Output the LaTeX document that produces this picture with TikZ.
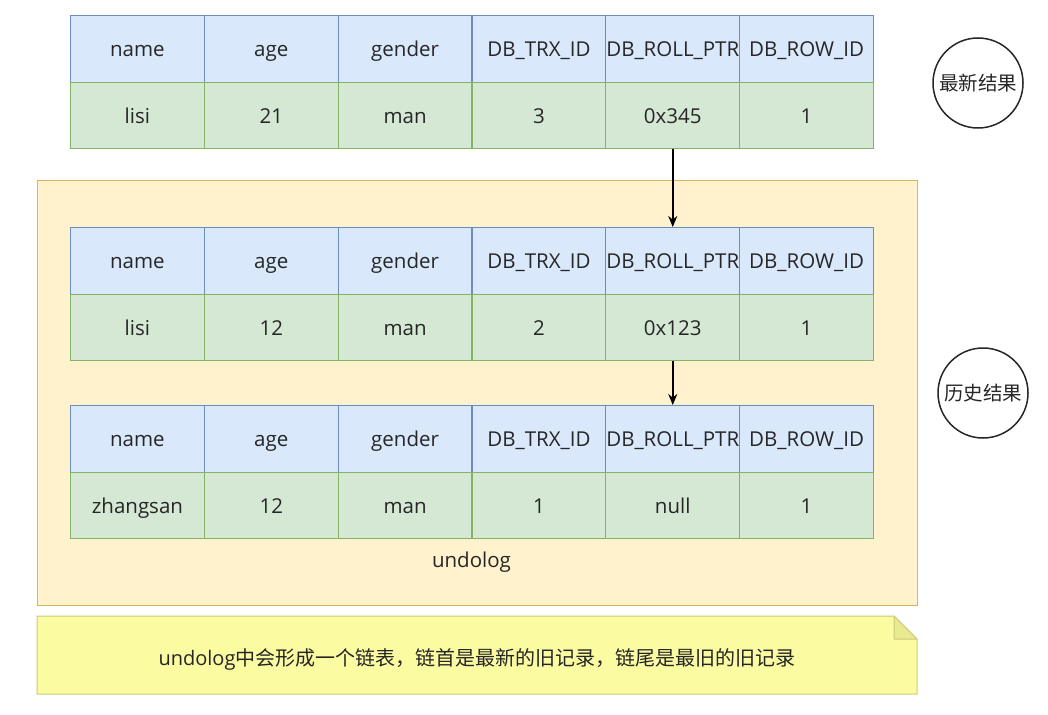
\documentclass[tikz,border=0pt]{standalone}
\usepackage{fontspec}
\setmainfont{Open Sans}
\newfontfamily\cjk{Noto Sans CJK SC}
\usetikzlibrary{arrows.meta}
\definecolor{hfill}{HTML}{DAE8FC}
\definecolor{hdraw}{HTML}{6C8EBF}
\definecolor{vfill}{HTML}{D5E8D4}
\definecolor{vdraw}{HTML}{82B366}
\definecolor{cfill}{HTML}{FFF2CC}
\definecolor{cdraw}{HTML}{D6B656}
\definecolor{nfill}{HTML}{FBFBA2}
\definecolor{ndraw}{HTML}{CACA7A}
\definecolor{nfold}{HTML}{E9E992}
\definecolor{ink}{HTML}{262626}
\tikzset{
  cell/.style={minimum width=133.83pt, minimum height=66.7pt, inner sep=0pt, anchor=north west, font=\fontsize{20.5}{24}\selectfont, text=ink, line width=1pt, text height=16.5pt, text depth=1.5pt},
  hcell/.style={cell, fill=hfill, draw=hdraw},
  vcell/.style={cell, fill=vfill, draw=vdraw},
  link/.style={draw=black, line width=1.8pt, -{Stealth[length=11pt,width=9pt]}},
  tag/.style={circle, draw=ink, line width=1.5pt, fill=white, minimum size=90pt, inner sep=0pt, font=\cjk\fontsize{19.5}{22}\selectfont, text=ink},
}
\begin{document}
\begin{tikzpicture}[x=1pt,y=-1pt]
\useasboundingbox (0,0) rectangle (1048,714);
\fill[white] (0,0) rectangle (1048,714);
% container
\node[draw=cdraw, fill=cfill, line width=1pt, minimum width=880pt, minimum height=425pt, inner sep=0pt, anchor=north west] (undo) at (37,180) {};
\node[font=\fontsize{20.5}{24}\selectfont, text=ink] (undolab) at (471.5,562) {undolog};
% table a
\node[hcell] (ah1) at (70,15) {name};
\node[hcell] (ah2) at (203.83,15) {age};
\node[hcell] (ah3) at (337.66,15) {gender};
\node[hcell] (ah4) at (471.5,15) {DB\_TRX\_ID};
\node[hcell] (ah5) at (605.33,15) {DB\_ROLL\_PTR};
\node[hcell] (ah6) at (739.16,15) {DB\_ROW\_ID};
\node[vcell] (av1) at (70,81.7) {lisi};
\node[vcell] (av2) at (203.83,81.7) {21};
\node[vcell] (av3) at (337.66,81.7) {man};
\node[vcell] (av4) at (471.5,81.7) {3};
\node[vcell] (av5) at (605.33,81.7) {0x345};
\node[vcell] (av6) at (739.16,81.7) {1};
% table b
\node[hcell] (bh1) at (70,227) {name};
\node[hcell] (bh2) at (203.83,227) {age};
\node[hcell] (bh3) at (337.66,227) {gender};
\node[hcell] (bh4) at (471.5,227) {DB\_TRX\_ID};
\node[hcell] (bh5) at (605.33,227) {DB\_ROLL\_PTR};
\node[hcell] (bh6) at (739.16,227) {DB\_ROW\_ID};
\node[vcell] (bv1) at (70,293.7) {lisi};
\node[vcell] (bv2) at (203.83,293.7) {12};
\node[vcell] (bv3) at (337.66,293.7) {man};
\node[vcell] (bv4) at (471.5,293.7) {2};
\node[vcell] (bv5) at (605.33,293.7) {0x123};
\node[vcell] (bv6) at (739.16,293.7) {1};
% table c
\node[hcell] (ch1) at (70,405) {name};
\node[hcell] (ch2) at (203.83,405) {age};
\node[hcell] (ch3) at (337.66,405) {gender};
\node[hcell] (ch4) at (471.5,405) {DB\_TRX\_ID};
\node[hcell] (ch5) at (605.33,405) {DB\_ROLL\_PTR};
\node[hcell] (ch6) at (739.16,405) {DB\_ROW\_ID};
\node[vcell] (cv1) at (70,471.7) {zhangsan};
\node[vcell] (cv2) at (203.83,471.7) {12};
\node[vcell] (cv3) at (337.66,471.7) {man};
\node[vcell] (cv4) at (471.5,471.7) {1};
\node[vcell] (cv5) at (605.33,471.7) {null};
\node[vcell] (cv6) at (739.16,471.7) {1};
% arrows
\draw[link] (av5.south) -- (bh5.north);
\draw[link] (bv5.south) -- (ch5.north);
% note
\draw[fill=nfill, draw=ndraw, line width=1pt] (37,616) -- (894,616) -- (917,639) -- (917,694) -- (37,694) -- cycle;
\draw[fill=nfold, draw=ndraw, line width=1pt, line join=round] (894,616) -- (894,639) -- (917,639) -- cycle;
\node[text=ink, font=\fontsize{20}{24}\selectfont] (notetext) at (477,659) {undolog{\cjk 中会形成一个链表，链首是最新的旧记录，链尾是最旧的旧记录}};
% tags
\node[tag] (newest) at (978,83) {最新结果};
\node[tag] (history) at (983,393) {历史结果};
\end{tikzpicture}
\end{document}
